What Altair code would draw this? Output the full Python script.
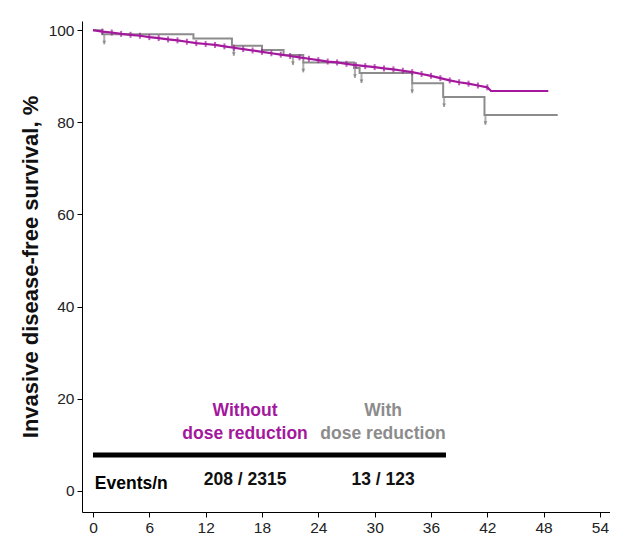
import altair as alt
import pandas as pd

# Without dose reduction (magenta)
mag_t = [0, 1, 2, 3, 4, 5, 6, 7, 8, 9, 10, 11, 12, 13, 14, 15, 16, 17, 18, 19, 20,
         21, 22, 23, 24, 25, 26, 27, 28, 29, 30, 31, 32, 33, 34, 35, 36, 37, 38, 39,
         40, 41, 42, 42.4, 48.5]
mag_s = [100.0, 99.7, 99.5, 99.2, 99.0, 98.8, 98.5, 98.3, 98.0, 97.8, 97.5, 97.2, 97.0,
         96.8, 96.5, 96.2, 95.9, 95.6, 95.3, 95.0, 94.7, 94.4, 94.1, 93.8, 93.5, 93.2,
         93.0, 92.7, 92.4, 92.2, 92.0, 91.7, 91.5, 91.2, 90.9, 90.5, 90.1, 89.6, 89.1,
         88.7, 88.4, 88.0, 87.6, 86.8, 86.8]

# With dose reduction (gray) - step function
gray_t = [0, 1.0, 10.7, 14.8, 18.0, 20.3, 22.4, 27.8, 28.4, 34.0, 37.3, 41.7, 49.5]
gray_s = [100, 99.1, 98.2, 96.6, 95.7, 94.6, 93.0, 91.8, 90.7, 88.5, 85.5, 81.6, 81.6]
gray_cens_t = [1.2, 15.0, 21.3, 22.4, 27.9, 28.6, 34.0, 37.4, 41.8]
gray_cens_s = [99.1, 96.6, 94.6, 93.0, 91.8, 90.7, 88.5, 85.5, 81.6]

x_ticks = [0, 6, 12, 18, 24, 30, 36, 42, 48, 54]
y_ticks = [0, 20, 40, 60, 80, 100]

# Table annotation
head_x = [16.2, 16.2, 30.9, 30.9]
head_y = [17.35, 12.4, 17.35, 12.4]
head_txt = ["Without", "dose reduction", "With", "dose reduction"]
head_grp = ["mag", "mag", "gray", "gray"]
row_x = [0.2, 16.2, 30.9]
row_y = [1.4, 2.4, 2.4]
row_txt = ["Events/n", "208 / 2315", "13 / 123"]
bar_x = [0]
bar_x2 = [37.6]
bar_y = [7.8]

MAG = "#A3189C"
GRAY = "#8C8C8C"
FONT = "Liberation Sans"

xs = alt.Scale(domain=[-1.17, 55.07], nice=False, zero=False)
ys = alt.Scale(domain=[-4.6, 102], nice=False, zero=False)

mag_df = pd.DataFrame({"t": mag_t, "s": mag_s})
gray_df = pd.DataFrame({"t": gray_t, "s": gray_s})
gcens_df = pd.DataFrame({"t": gray_cens_t, "s": gray_cens_s})
mcens_df = mag_df.iloc[1:-2]

X = alt.X("t:Q", scale=xs, axis=alt.Axis(values=x_ticks, title=None, grid=False,
          labelFontSize=15.5, labelColor="#222", tickSize=5, labelPadding=3,
          domainColor="#000", tickColor="#000", labelFont=FONT))
Y = alt.Y("s:Q", scale=ys, axis=alt.Axis(values=y_ticks, title="Invasive disease-free survival, %",
          grid=False, labelFontSize=15.5, labelColor="#222", tickSize=5, labelPadding=3,
          titleFontSize=22, titleFont=FONT, titleFontWeight="bold", titleColor="#111",
          titlePadding=6, domainColor="#000", tickColor="#000", labelFont=FONT))

gray_line = alt.Chart(gray_df).mark_line(interpolate="step-after", color=GRAY, strokeWidth=2).encode(x=X, y=Y)
gray_cens = alt.Chart(gcens_df).mark_tick(orient="vertical", color=GRAY, size=10, thickness=2, yOffset=5).encode(x="t:Q", y="s:Q")
gray_tri = alt.Chart(gcens_df).mark_point(shape="triangle-down", filled=True, color=GRAY, size=14, yOffset=8, opacity=1).encode(x="t:Q", y="s:Q")
mag_line = alt.Chart(mag_df).mark_line(color=MAG, strokeWidth=2.2).encode(x="t:Q", y="s:Q")
mag_cens = alt.Chart(mcens_df).mark_tick(orient="vertical", color=MAG, size=6, thickness=2).encode(x="t:Q", y="s:Q")

bar = alt.Chart(pd.DataFrame({"x": bar_x, "x2": bar_x2, "y": bar_y})).mark_rule(
    color="#000", strokeWidth=5).encode(x="x:Q", x2="x2:Q", y="y:Q")

head = alt.Chart(pd.DataFrame({"x": head_x, "y": head_y, "txt": head_txt, "g": head_grp})).mark_text(
    font=FONT, fontSize=17.5, fontWeight="bold", align="center", baseline="middle").encode(
    x="x:Q", y="y:Q", text="txt:N",
    color=alt.Color("g:N", scale=alt.Scale(domain=["mag", "gray"], range=[MAG, GRAY]), legend=None))

rows_l = alt.Chart(pd.DataFrame({"x": row_x[:1], "y": row_y[:1], "txt": row_txt[:1]})).mark_text(
    font=FONT, fontSize=17.5, fontWeight="bold", align="left", baseline="middle", color="#000").encode(
    x="x:Q", y="y:Q", text="txt:N")
rows_c = alt.Chart(pd.DataFrame({"x": row_x[1:], "y": row_y[1:], "txt": row_txt[1:]})).mark_text(
    font=FONT, fontSize=17.5, fontWeight="bold", align="center", baseline="middle", color="#111").encode(
    x="x:Q", y="y:Q", text="txt:N")

chart = alt.layer(gray_line, gray_cens, gray_tri, mag_line, mag_cens, bar, head, rows_l, rows_c).properties(
    width=528, height=491, autosize="none",
    padding={"left": 74, "top": 13, "right": 0, "bottom": 22},
    background="white"
).configure_view(stroke=None)

chart.save("out.html", embed_options={"renderer": "svg", "actions": False})
